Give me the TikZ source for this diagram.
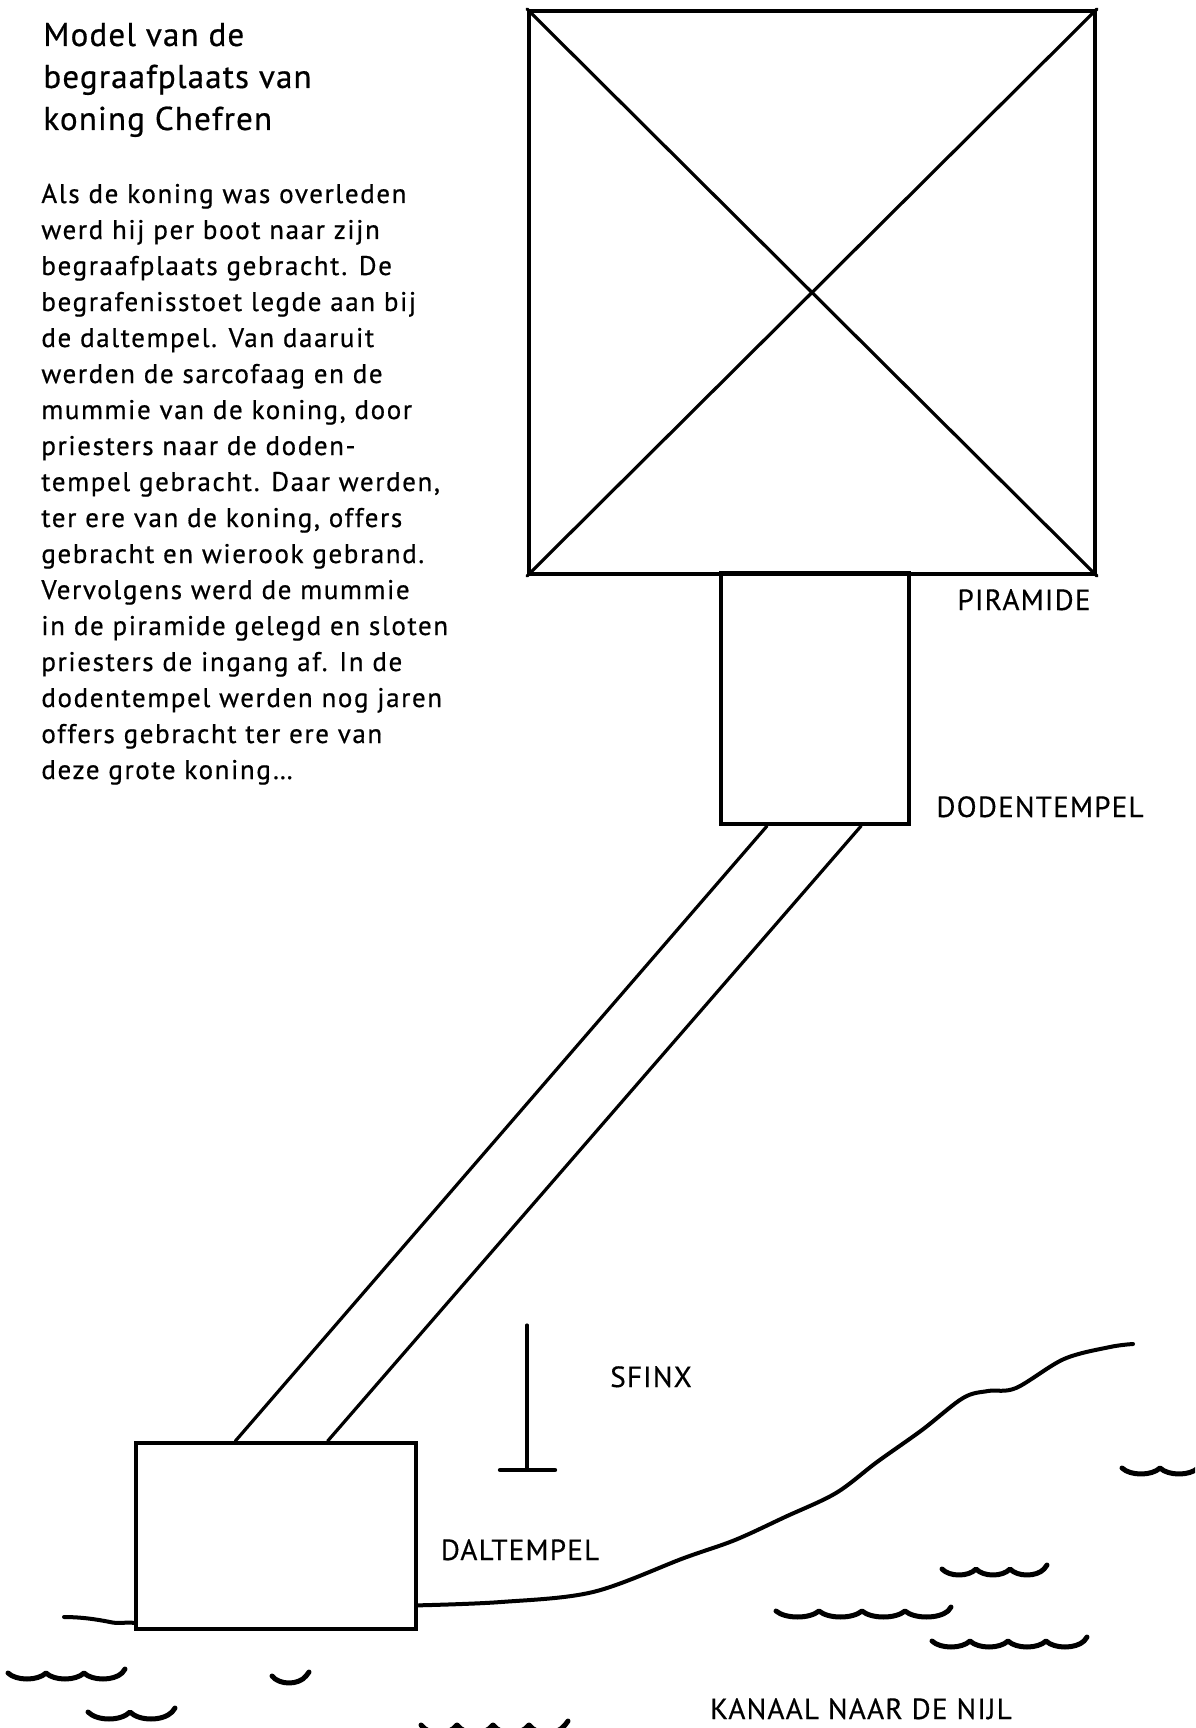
\documentclass[tikz,border=0pt]{standalone}
\usepackage{fontspec}
\setmainfont{PT Sans}
\newfontfamily\titlefont[LetterSpace=3.5,FakeBold=0.6]{PT Sans}
\newfontfamily\bodyfont[LetterSpace=6,FakeBold=0.6]{PT Sans}
\newfontfamily\lblfont[LetterSpace=4,FakeBold=0.4]{PT Sans}
\usetikzlibrary{calc}
\newcommand{\golf}[5]{% x, y, number of humps, hump width, depth
  \draw[wavestyle] (#1,#2) \foreach \k in {1,...,#3}{
    .. controls +(0.22*#4,1.33*#5) and +(-0.22*#4,1.33*#5) .. ++(#4,0)}
    -- ++(3,-4);}
\begin{document}
\begin{tikzpicture}[x=0.5pt,y=-0.5pt,
  building/.style={draw, line width=2pt, rectangle, inner sep=0pt},
  ink/.style={line width=2pt, line cap=round, line join=round},
  thinink/.style={line width=1.6pt, line cap=round},
  shore/.style={line width=2pt, line cap=round, line join=round},
  wavestyle/.style={line width=2.5pt, line cap=round, line join=round},
  titletext/.style={font=\titlefont\fontsize{16.5}{20}\selectfont, anchor=base west, inner sep=0pt},
  bodytext/.style={font=\bodyfont\fontsize{13.5}{16}\selectfont, anchor=base west, inner sep=0pt},
  lbl/.style={font=\lblfont\fontsize{14.6}{17}\selectfont, anchor=base, inner sep=0pt}]
\useasboundingbox (0,0) rectangle (1195,1728);
\clip (0,0) rectangle (1195,1728);

% title and text
\foreach \t [count=\i] in {Model van de, begraafplaats van, koning Chefren}
  \node[titletext] (title\i) at (43,{46+(\i-1)*42}) {\t};
\foreach \t [count=\i] in {
  Als de koning was overleden,
  werd hij per boot naar zijn,
  begraafplaats gebracht. De,
  begrafenisstoet legde aan bij,
  de daltempel. Van daaruit,
  werden de sarcofaag en de,
  {mummie van de koning, door},
  priesters naar de doden-,
  {tempel gebracht. Daar werden,},
  {ter ere van de koning, offers},
  gebracht en wierook gebrand.,
  Vervolgens werd de mummie,
  in de piramide gelegd en sloten,
  priesters de ingang af. In de,
  dodentempel werden nog jaren,
  offers gebracht ter ere van,
  {deze grote koning…}}
  \node[bodytext] (body\i) at (41,{203+(\i-1)*36}) {\t};

% buildings
\node[building, minimum width=283pt, minimum height=281.5pt] (pir) at (812,292.5) {};
\node[building, minimum width=94pt, minimum height=125.5pt] (dod) at (815,698.5) {};
\node[building, minimum width=140pt, minimum height=93pt] (dal) at (276,1536) {};
\draw[thinink] (pir.north west) -- (pir.south east);
\draw[thinink] (pir.north east) -- (pir.south west);

% causeway
\draw[thinink] ($(dod.south west)!0.25!(dod.south east)$) -- ($(dal.north west)!0.357!(dal.north east)$);
\draw[thinink] ($(dod.south west)!0.74!(dod.south east)$) -- ($(dal.north west)!0.682!(dal.north east)$);

% sphinx
\coordinate (sfa) at (527,1325);
\coordinate (sfb) at (527,1470);
\coordinate (sfl) at (500,1470);
\coordinate (sfr) at (555,1470);
\draw[thinink] (sfa) -- (sfb);
\draw[ink, line width=2.2pt] (sfl) -- (sfr);

% labels
\node[lbl] (lpir) at (1024,610) {PIRAMIDE};
\node[lbl] (ldod) at (1040,817) {DODENTEMPEL};
\node[lbl] (lsf) at (651,1387) {SFINX};
\node[lbl] (ldal) at (520,1560) {DALTEMPEL};
\node[lbl] (lkan) at (861,1719) {KANAAL NAAR DE NIJL};

% shore lines
\coordinate (s0) at ($(dal.north east)!0.865!(dal.south east)$);
\coordinate (t0) at ($(dal.north west)!0.957!(dal.south west)$);
\draw[shore] plot[smooth, tension=0.55] coordinates {(s0) (501,1602) (593,1592) (684,1558) (735,1540) (785,1517) (836,1493) (877,1462) (922,1430) (963,1398) (988,1391) (1016,1388) (1064,1359) (1110,1347) (1133,1344)};
\draw[shore] (t0) .. controls (125,1622) and (118,1624) .. (110,1622) .. controls (95,1619) and (80,1617) .. (64,1617);

% waves
\golf{8}{1673}{3}{38}{6}
\golf{272}{1676}{1}{34}{7}
\golf{88}{1712}{2}{42}{7}
\golf{421}{1725}{4}{36}{8}
\golf{1122}{1468}{3}{38}{6}
\golf{942}{1569}{3}{34}{6}
\golf{776}{1611}{4}{43}{6}
\golf{932}{1641}{4}{38}{6}
\end{tikzpicture}
\end{document}
